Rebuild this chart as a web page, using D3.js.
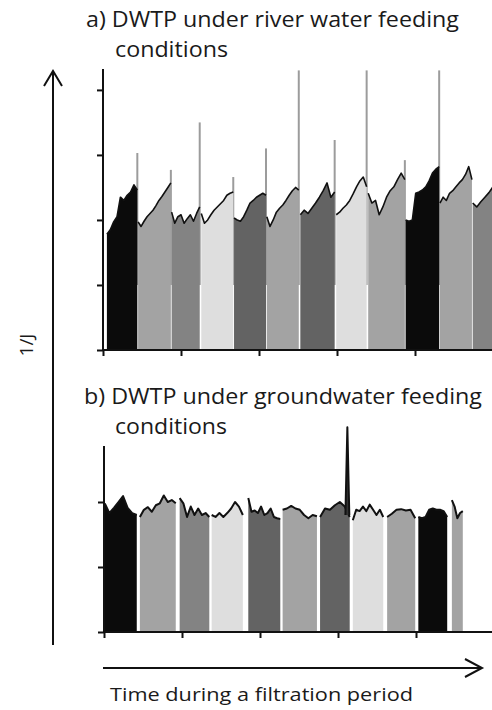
<!DOCTYPE html>
<html>
<head>
<meta charset="utf-8">
<script src="https://cdn.jsdelivr.net/npm/d3@7"></script>
<style>
  body { margin: 0; background: #fff; }
  text { font-family: "Open Sans", "Noto Sans", sans-serif; fill: #1a1a1a; }
</style>
</head>
<body>
<div id="chart"></div>
<script>
// shades used for the filtration cycles
var BK = "#0b0b0b", LG = "#a3a3a3", MG = "#838383", VL = "#dedede", DG = "#636363";

// a) river water: one block per filtration cycle
var riverColors = [BK, LG, MG, VL, DG, LG, DG, VL, LG, BK, LG, MG];
var riverStart = [0.05, 0.45, 0.88, 1.26, 1.68, 2.10, 2.53, 2.99, 3.40, 3.88, 4.32, 4.74];
var riverEnd   = [0.44, 0.87, 1.24, 1.67, 2.09, 2.51, 2.97, 3.38, 3.87, 4.31, 4.73, 5.00];
var riverProfiles = [
  [1.78, 1.85, 1.97, 2.05, 2.35, 2.30, 2.38, 2.43, 2.54, 2.46],
  [1.97, 1.90, 1.98, 2.05, 2.10, 2.15, 2.22, 2.30, 2.36, 2.43, 2.50, 2.57],
  [2.12, 1.95, 2.05, 2.08, 1.95, 2.02, 2.08, 1.98, 2.10, 2.20],
  [2.10, 1.95, 2.00, 2.08, 2.15, 2.20, 2.25, 2.30, 2.38, 2.41, 2.43],
  [2.03, 2.00, 1.98, 2.05, 2.15, 2.26, 2.30, 2.35, 2.38, 2.41, 2.38],
  [2.05, 1.90, 2.00, 2.12, 2.18, 2.23, 2.30, 2.38, 2.45, 2.50, 2.46],
  [2.08, 2.15, 2.10, 2.18, 2.26, 2.35, 2.45, 2.57, 2.35, 2.43],
  [2.08, 2.12, 2.18, 2.23, 2.30, 2.40, 2.51, 2.60, 2.66, 2.51],
  [2.41, 2.26, 2.30, 2.08, 2.20, 2.35, 2.45, 2.51, 2.62, 2.72, 2.62],
  [2.00, 1.98, 2.00, 2.41, 2.43, 2.46, 2.51, 2.60, 2.72, 2.78, 2.82],
  [2.26, 2.35, 2.30, 2.41, 2.45, 2.51, 2.57, 2.62, 2.70, 2.82, 2.62],
  [2.26, 2.20, 2.28, 2.35, 2.42, 2.51]
];
var riverSpikeTimes  = [0.44, 0.87, 1.24, 1.67, 2.09, 2.51, 2.97, 3.38, 3.87, 4.31];
var riverSpikeValues = [3.03, 2.77, 3.50, 2.66, 3.10, 4.30, 3.23, 4.30, 2.92, 4.30];

// b) groundwater
var groundColors = [BK, LG, MG, VL, DG, LG, DG, VL, LG, BK, LG];
var groundStart = [0.01, 0.46, 0.97, 1.38, 1.85, 2.29, 2.77, 3.19, 3.63, 4.03, 4.46];
var groundEnd   = [0.42, 0.92, 1.35, 1.78, 2.26, 2.73, 3.15, 3.58, 3.99, 4.40, 4.60];
var groundProfiles = [
  [1.98, 1.83, 1.91, 2.00, 2.09, 1.91, 1.83, 1.80],
  [1.77, 1.88, 1.92, 1.85, 1.95, 1.98, 2.10, 2.00, 2.03, 1.98],
  [2.06, 1.98, 1.77, 1.93, 1.80, 1.90, 1.80, 1.83, 1.77],
  [1.80, 1.77, 1.83, 1.77, 1.83, 1.90, 2.00, 1.93, 1.80],
  [2.06, 1.85, 1.87, 1.83, 1.93, 1.80, 1.83, 1.90, 1.77, 1.75, 1.74],
  [1.88, 1.90, 1.94, 1.90, 1.88, 1.80, 1.75, 1.80, 1.78],
  [1.77, 1.90, 1.88, 1.95, 2.00, 1.93, 1.77],
  [1.72, 1.88, 1.86, 1.93, 1.86, 1.96, 1.88, 1.80, 1.88, 1.77],
  [1.77, 1.82, 1.88, 1.89, 1.87, 1.88, 1.75],
  [1.77, 1.75, 1.77, 1.88, 1.90, 1.88, 1.88, 1.86, 1.77],
  [2.03, 1.93, 1.75, 1.83, 1.86]
];
var groundSpikeTimes  = [3.12];
var groundSpikeValues = [3.15];

var xTicks = [0, 1, 2, 3, 4];
var riverYTicks = [0, 1, 2, 3, 4];
var groundYTicks = [0, 1, 2];

var width = 492, height = 710;

var svg = d3.select("#chart").append("svg")
    .attr("width", width)
    .attr("height", height);

svg.append("rect").attr("width", width).attr("height", height).attr("fill", "#fff");

function drawPanel(p) {
    var x = d3.scaleLinear().domain([0, 5]).range([p.left, p.left + 390]);
    var y = d3.scaleLinear().domain([0, p.yMax]).range([p.bottom, p.top]);

    var g = svg.append("g");

    g.append("clipPath").attr("id", p.id + "clip")
        .append("rect").attr("x", p.left).attr("y", 0)
        .attr("width", 492 - p.left).attr("height", height);

    var plot = g.append("g").attr("clip-path", "url(#" + p.id + "clip)");

    // tall gray spikes at backwash points (drawn behind the blocks)
    if (p.grayspikes) {
        plot.selectAll("line.spike")
            .data(p.spikeTimes)
            .enter().append("line")
            .attr("class", "spike")
            .attr("x1", function(d) { return x(d); })
            .attr("x2", function(d) { return x(d); })
            .attr("y1", y(1))
            .attr("y2", function(d, i) { return y(p.spikeValues[i]); })
            .attr("stroke", "#9c9c9c")
            .attr("stroke-width", 2);
    }

    p.profiles.forEach(function(vals, k) {
        var xi = d3.scaleLinear().domain([0, vals.length - 1]).range([p.starts[k], p.ends[k]]);
        var area = d3.area()
            .x(function(d, i) { return x(xi(i)); })
            .y0(y(0))
            .y1(function(d) { return y(d); });
        var line = d3.line()
            .x(function(d, i) { return x(xi(i)); })
            .y(function(d) { return y(d); });
        plot.append("path").datum(vals)
            .attr("d", area)
            .attr("fill", p.colors[k]);
        plot.append("path").datum(vals)
            .attr("d", line)
            .attr("fill", "none")
            .attr("stroke", "#111")
            .attr("stroke-width", p.lineWidth)
            .attr("stroke-linejoin", "round");
    });

    // narrow black peak (groundwater)
    if (!p.grayspikes) {
        p.spikeTimes.forEach(function(t, i) {
            var pts = [[t - 0.025, 1.8], [t, p.spikeValues[i]], [t + 0.025, 1.8]];
            plot.append("path")
                .attr("d", d3.line().x(function(d) { return x(d[0]); }).y(function(d) { return y(d[1]); })(pts))
                .attr("fill", "#333")
                .attr("stroke", "#111")
                .attr("stroke-width", 2)
                .attr("stroke-linejoin", "round");
        });
    }

    var yAxis = d3.axisLeft(y).tickValues(p.yTicks).tickSize(6).tickFormat("");
    var yg = g.append("g").attr("transform", "translate(" + p.left + ",0)").call(yAxis);
    yg.select(".domain").attr("d", "M0," + (p.top - 4) + "V" + p.bottom);

    var xAxis = d3.axisBottom(x).tickValues(xTicks).tickSize(6).tickFormat("");
    var xg = g.append("g").attr("transform", "translate(0," + p.bottom + ")").call(xAxis);
    xg.select(".domain").attr("d", "M" + p.left + ",0H492");

    g.selectAll(".domain, .tick line").attr("stroke", "#111").attr("stroke-width", 2);
}

drawPanel({
    id: "river", left: 103, top: 73, bottom: 350, yMax: 4.26,
    colors: riverColors, starts: riverStart, ends: riverEnd, profiles: riverProfiles,
    spikeTimes: riverSpikeTimes, spikeValues: riverSpikeValues,
    yTicks: riverYTicks, grayspikes: true, lineWidth: 1.6
});

drawPanel({
    id: "ground", left: 104, top: 450, bottom: 632, yMax: 2.8,
    colors: groundColors, starts: groundStart, ends: groundEnd, profiles: groundProfiles,
    spikeTimes: groundSpikeTimes, spikeValues: groundSpikeValues,
    yTicks: groundYTicks, grayspikes: false, lineWidth: 2
});

// titles
function label(x, y, size, len, str) {
    return svg.append("text").attr("x", x).attr("y", y).attr("font-size", size)
        .attr("textLength", len).attr("lengthAdjust", "spacingAndGlyphs").text(str);
}
label(86, 27, 21, 373, "a) DWTP under river water feeding");
label(115, 57, 21, 113, "conditions");
label(84, 404, 21, 398, "b) DWTP under groundwater feeding");
label(115, 434, 21, 112, "conditions");
label(110, 701, 18.5, 303, "Time during a filtration period");

// big arrows
var arrows = svg.append("g").attr("stroke", "#111").attr("stroke-width", 2).attr("fill", "none");
arrows.append("path").attr("d", "M53,645V71");
arrows.append("path").attr("d", "M44,86L53,71L62,86");
arrows.append("path").attr("d", "M103,668H482");
arrows.append("path").attr("d", "M465,659L482,668L465,677");

svg.append("text").attr("transform", "translate(33,345) rotate(-90)")
    .attr("text-anchor", "middle").attr("font-size", 19).text("1/J");
</script>
</body>
</html>
